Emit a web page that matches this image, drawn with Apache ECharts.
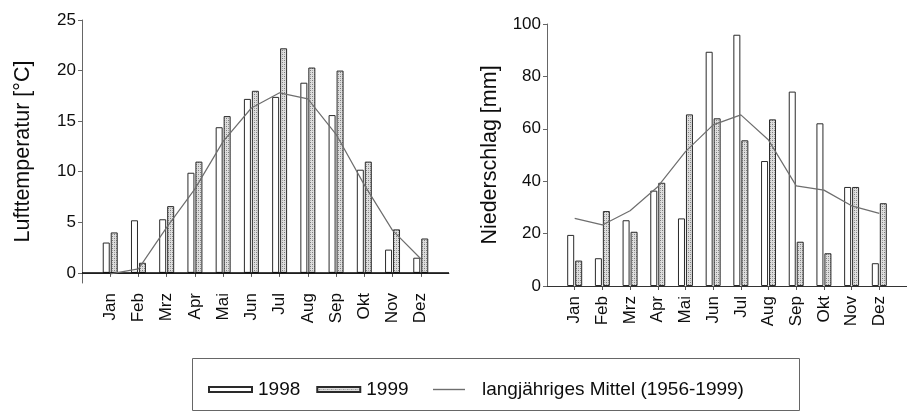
<!DOCTYPE html>
<html>
<head>
<meta charset="utf-8">
<script src="https://cdn.jsdelivr.net/npm/echarts@6/dist/echarts.min.js"></script>
<style>
  html, body { margin: 0; padding: 0; background: #fff; }
  #chart { width: 907px; height: 412px; }
</style>
</head>
<body>
<div id="chart"></div>
<script>
// Monatswerte
const months = ['Jan', 'Feb', 'Mrz', 'Apr', 'Mai', 'Jun', 'Jul', 'Aug', 'Sep', 'Okt', 'Nov', 'Dez'];

// Lufttemperatur [°C]
const temp1998 = [3.0, 5.2, 5.3, 9.9, 14.4, 17.2, 17.4, 18.8, 15.6, 10.2, 2.3, 1.5];
const temp1999 = [4.0, 1.0, 6.6, 11.0, 15.5, 18.0, 22.2, 20.3, 20.0, 11.0, 4.3, 3.4];
const tempMittel = [-0.1, 0.4, 4.5, 8.3, 13.0, 16.3, 17.8, 17.2, 13.7, 8.7, 4.2, 1.4];

// Niederschlag [mm]
const nied1998 = [19.5, 10.6, 25.1, 36.4, 25.8, 89.4, 95.9, 47.7, 74.2, 62.1, 37.8, 8.7];
const nied1999 = [9.7, 28.6, 20.7, 39.4, 65.5, 64.0, 55.6, 63.6, 16.9, 12.5, 37.8, 31.6];
const niedMittel = [25.8, 23.3, 28.7, 37.9, 51.3, 61.5, 65.3, 55.7, 38.2, 36.6, 30.6, 27.7];

// Achsenbeschriftung
const tempTicks = [0, 5, 10, 15, 20, 25];
const niedTicks = [0, 20, 40, 60, 80, 100];

const NAME_98 = '1998';
const NAME_99 = '1999';
const NAME_MEAN = 'langjähriges Mittel (1956-1999)';

const FONT = '"Liberation Sans", Arial, Helvetica, sans-serif';
const TEXT = '#0d0d0d';

// Punktraster für die 1999er Säulen
function dotPattern() {
  const c = document.createElement('canvas');
  c.width = 4; c.height = 4;
  const g = c.getContext('2d');
  g.fillStyle = '#dedede';
  g.fillRect(0, 0, 4, 4);
  g.fillStyle = '#7c7c7c';
  g.fillRect(0, 0, 1, 1);
  g.fillRect(2, 2, 1, 1);
  g.fillStyle = '#a8a8a8';
  g.fillRect(2, 0, 1, 1);
  g.fillRect(0, 2, 1, 1);
  return c;
}
const pattern = { image: dotPattern(), repeat: 'repeat' };

// Kategorien mit je einem leeren Platz links und rechts
const padded = arr => [null, ...arr, null];
const cats = ['', ...months, ''];

function xAxisFor(gridIndex, lineColor) {
  return {
    type: 'category',
    gridIndex,
    data: cats,
    boundaryGap: false,
    axisLine: { show: true, lineStyle: { color: lineColor, width: 1 } },
    axisTick: {
      show: true, length: 4, inside: false,
      interval: (i, v) => v !== '',
      lineStyle: { color: '#555' }
    },
    axisLabel: {
      rotate: 90, margin: 10, color: TEXT, fontSize: 17, fontFamily: FONT,
      interval: 0
    },
    splitLine: { show: false }
  };
}

function yAxisFor(gridIndex, ticks, opts) {
  return Object.assign({
    type: 'value',
    gridIndex,
    nameLocation: 'middle',
    nameRotate: 90,
    nameTextStyle: { color: TEXT, fontSize: 21.5, fontFamily: FONT },
    axisLine: { show: true, lineStyle: { color: '#666', width: 1 } },
    axisTick: { show: true, length: 4, customValues: ticks, lineStyle: { color: '#666' } },
    axisLabel: { color: TEXT, fontSize: 17, fontFamily: FONT, margin: 6, customValues: ticks },
    splitLine: { show: false }
  }, opts);
}

function barSeries(name, data, xi, yi, fill, extra) {
  return Object.assign({
    name, type: 'bar', xAxisIndex: xi, yAxisIndex: yi,
    data: padded(data),
    barWidth: 7, barGap: '14%',
    itemStyle: { color: fill, borderColor: '#2a2a2a', borderWidth: 1 },
    emphasis: { disabled: true },
    animation: false
  }, extra || {});
}

function meanSeries(data, xi, yi) {
  return {
    name: NAME_MEAN, type: 'line', xAxisIndex: xi, yAxisIndex: yi,
    data: padded(data),
    symbol: 'none',
    connectNulls: false,
    lineStyle: { color: '#6e6e6e', width: 1.2 },
    itemStyle: { color: '#6e6e6e' },
    z: 5,
    animation: false
  };
}

const option = {
  backgroundColor: '#fff',
  animation: false,
  grid: [
    { left: 82, top: 20, width: 367, height: 263 },
    { left: 547, top: 24, width: 370, height: 262 }
  ],
  xAxis: [xAxisFor(0, '#777'), xAxisFor(1, '#333')],
  yAxis: [
    yAxisFor(0, tempTicks, {
      name: 'Lufttemperatur [°C]', nameGap: 48,
      min: -1, max: 25
    }),
    yAxisFor(1, niedTicks, {
      name: 'Niederschlag [mm]', nameGap: 46,
      min: 0, max: 100
    })
  ],
  legend: [
    {
      data: [NAME_98, NAME_99],
      left: 203, top: 375,
      itemWidth: 43, itemHeight: 5, itemGap: 16,
      icon: 'rect',
      textStyle: { color: TEXT, fontSize: 19, fontFamily: FONT, padding: [0, 0, 0, 1] },
      selectedMode: false
    },
    {
      data: [NAME_MEAN],
      left: 428, top: 375,
      itemWidth: 32, itemHeight: 1.4,
      icon: 'rect',
      itemStyle: { color: '#6e6e6e', borderWidth: 0 },
      textStyle: { color: TEXT, fontSize: 19, fontFamily: FONT, padding: [0, 0, 0, 12] },
      selectedMode: false
    }
  ],
  graphic: [
    {
      type: 'rect',
      shape: { x: 192.5, y: 358.5, width: 607, height: 52 },
      style: { fill: 'none', stroke: '#666', lineWidth: 1 },
      silent: true
    }
  ],
  series: [
    barSeries(NAME_98, temp1998, 0, 0, '#ffffff', {
      markLine: {
        silent: true, symbol: 'none', label: { show: false },
        lineStyle: { color: '#000', width: 1.6, type: 'solid' },
        data: [{ yAxis: 0 }],
        animation: false
      }
    }),
    barSeries(NAME_99, temp1999, 0, 0, pattern),
    meanSeries(tempMittel, 0, 0),
    barSeries(NAME_98, nied1998, 1, 1, '#ffffff'),
    barSeries(NAME_99, nied1999, 1, 1, pattern),
    meanSeries(niedMittel, 1, 1)
  ]
};

const chart = echarts.init(document.getElementById('chart'), null, { renderer: 'canvas' });
chart.setOption(option);
</script>
</body>
</html>
